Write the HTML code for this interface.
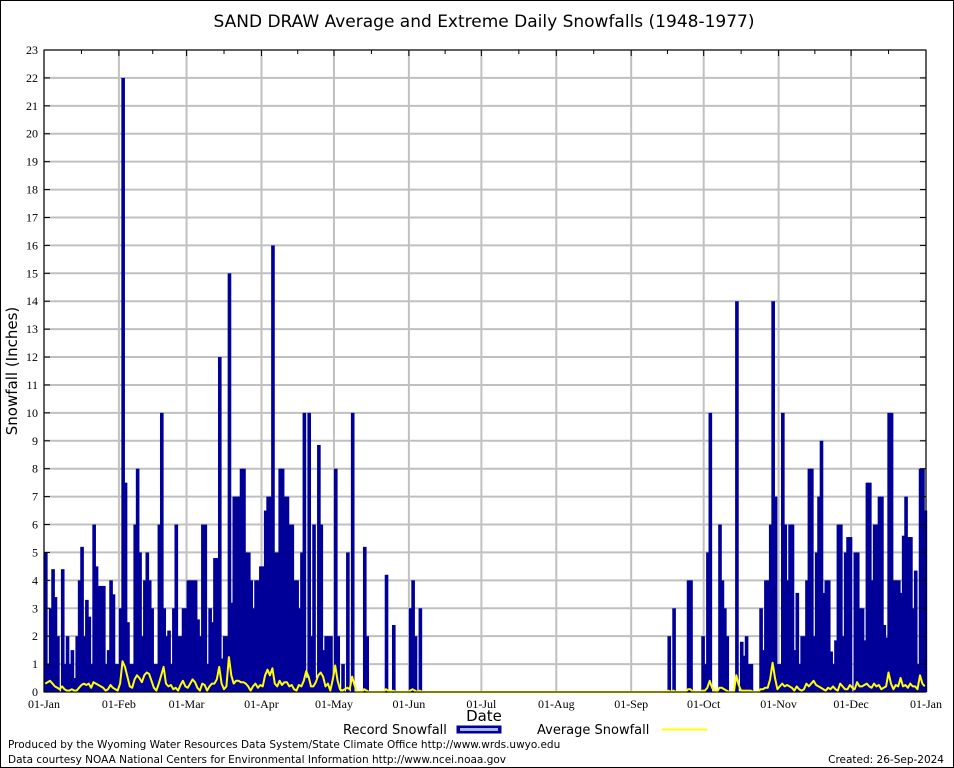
<!DOCTYPE html>
<html><head><meta charset="utf-8"><style>
body{margin:0;background:#fff;}
svg{display:block;}
.tk{font-family:"Liberation Serif",serif;font-size:12px;fill:#000;}
.sn{font-family:"DejaVu Sans","Liberation Sans",sans-serif;fill:#000;}
</style></head><body>
<svg id="chart" width="954" height="768" viewBox="0 0 954 768" xmlns="http://www.w3.org/2000/svg">
<rect x="0.5" y="0.5" width="953" height="767" fill="#fff" stroke="#000"/>
<text x="484" y="27" text-anchor="middle" class="sn" font-size="17">SAND DRAW Average and Extreme Daily Snowfalls (1948-1977)</text>
<g id="grid"></g>
<g id="bars"></g>
<g id="avg"></g>
<g id="axes"></g>
<text x="17" y="371" transform="rotate(-90 17 371)" text-anchor="middle" class="sn" font-size="15">Snowfall (Inches)</text>
<text x="484" y="721" text-anchor="middle" class="sn" font-size="15">Date</text>
<g>
<text x="343" y="734" class="sn" font-size="13">Record Snowfall</text>
<rect x="457" y="726" width="44" height="7" fill="#000099" stroke="#000099"/>
<rect x="460" y="728" width="38" height="3" fill="#aab4ff"/>
<text x="537" y="734" class="sn" font-size="13">Average Snowfall</text>
<line x1="662" y1="729.5" x2="707" y2="729.5" stroke="#ffff00" stroke-width="2"/>
</g>
<text x="8" y="748" class="sn" font-size="10.5">Produced by the Wyoming Water Resources Data System/State Climate Office http://www.wrds.uwyo.edu</text>
<text x="8" y="763" class="sn" font-size="10.5">Data courtesy NOAA National Centers for Environmental Information http://www.ncei.noaa.gov</text>
<text x="944" y="763" text-anchor="end" class="sn" font-size="10.5">Created:  26-Sep-2024</text>
</svg>
<script>
var monthLabels=["01-Jan","01-Feb","01-Mar","01-Apr","01-May","01-Jun","01-Jul","01-Aug","01-Sep","01-Oct","01-Nov","01-Dec","01-Jan"];
var monthDays=[0,31,59,90,120,151,181,212,243,273,304,334,365];
var yTicks=[0,1,2,3,4,5,6,7,8,9,10,11,12,13,14,15,16,17,18,19,20,21,22,23];
var record=[
5,1,3,4.4,3.4,2,0,4.4,1,2,
1,1.5,0.5,2,4,5.2,2,3.3,2.7,1,
6,4.5,3.8,3.8,3.8,1,1.5,4,3.5,1,
1,3,22,7.5,2.5,1,1,6,8,5,
2,4,5,4,3,1,1,6,10,3,
2,2.2,1,3,6,2,2,3,3,4,
4,4,4,2.6,2,6,6,1,3,2.5,
4.8,4.8,12,1.2,2,2,15,3.2,7,7,
7,8,8,5,5,4,3,4,4,4.5,
4.5,6.5,7,7,16,5,5,8,8,7,
7,6,6,4,4,3,5,10,0.5,10,
2,6,0.5,8.85,6,1.5,2,2,2,0.5,
8,2,0,1,0,5,0,10,0,0,
0,0,5.2,2,0,0,0,0,0,0,
0,4.2,0,0,2.4,0,0,0,0,0,
0,3,4,2,0,3,0,0,0,0,
0,0,0,0,0,0,0,0,0,0,
0,0,0,0,0,0,0,0,0,0,
0,0,0,0,0,0,0,0,0,0,
0,0,0,0,0,0,0,0,0,0,
0,0,0,0,0,0,0,0,0,0,
0,0,0,0,0,0,0,0,0,0,
0,0,0,0,0,0,0,0,0,0,
0,0,0,0,0,0,0,0,0,0,
0,0,0,0,0,0,0,0,0,0,
0,0,0,0,0,0,0,0,2,0,
3,0,0,0,0,0,4,4,0,0,
0,0,2,1,5,10,0,0,0,6,
4,3,2,0,0,0,14,0,1.8,1.3,
2,1,1,0,0,0,3,1.5,4,4,
6,14,7,1,1,10,6,4,6,6,
1.5,3.55,1,2,2,4,8,8,2,5,
7,9,3.55,4,4,1.45,1,1.85,6,6,
2,5,5.55,5.55,0,5,5,3,3,1.85,
7.5,7.5,4,6,6,7,7,2.4,1.95,10,
10,4,4,4,3.55,5.6,7,5.55,5.55,3,
4.35,1,8,8,6.5];
var average=[
.3,.35,.4,.3,.2,.15,.1,.2,.1,.05,
.05,.1,.05,.05,.15,.25,.3,.25,.3,.15,
.35,.3,.25,.2,.15,.05,.1,.25,.15,.1,
.05,.3,1.1,.9,.55,.2,.15,.45,.6,.5,
.35,.6,.7,.65,.4,.15,.05,.3,.6,.9,
.3,.2,.25,.1,.15,.05,.25,.4,.2,.15,
.3,.45,.35,.15,.05,.3,.25,.05,.2,.3,
.3,.45,.9,.3,.1,.2,1.25,.6,.3,.4,
.4,.35,.35,.3,.2,.05,.2,.3,.15,.25,
.2,.6,.8,.6,.85,.3,.2,.4,.25,.35,
.35,.2,.25,.1,.05,.25,.2,.4,.75,.55,
.2,.2,.35,.6,.7,.55,.2,.3,.05,.45,
.95,.4,.1,.05,.1,.15,.1,.55,.25,0,
0,0,.1,.05,0,0,0,0,0,0,
0,.1,.05,0,.05,0,0,0,0,0,
0,.05,.1,.05,0,.05,0,0,0,0,
0,0,0,0,0,0,0,0,0,0,
0,0,0,0,0,0,0,0,0,0,
0,0,0,0,0,0,0,0,0,0,
0,0,0,0,0,0,0,0,0,0,
0,0,0,0,0,0,0,0,0,0,
0,0,0,0,0,0,0,0,0,0,
0,0,0,0,0,0,0,0,0,0,
0,0,0,0,0,0,0,0,0,0,
0,0,0,0,0,0,0,0,0,0,
0,0,0,0,0,0,0,0,.05,0,
.05,0,0,0,0,0,.1,.1,0,0,
0,0,.05,.05,.15,.4,.15,.05,0,.15,
.15,.1,.05,0,0,0,.6,.25,.05,.05,
.05,.05,.05,0,0,0,.1,.1,.15,.15,
.45,1.05,.5,.1,.2,.3,.2,.25,.2,.15,
.05,.2,.1,.05,.1,.3,.2,.3,.4,.25,
.2,.15,.1,.05,.15,.1,.2,.1,.05,.3,
.2,.1,.1,.25,.15,.1,.35,.2,.2,.25,
.3,.2,.15,.3,.2,.25,.1,.15,.2,.7,
.3,.1,.25,.2,.5,.2,.25,.15,.3,.2,
.2,.1,.6,.3,.2];

var NS="http://www.w3.org/2000/svg";
var L=44,R=926,T=50,B=692,YMAX=23,NDAYS=365;
function xs(d){return L+(R-L)*d/NDAYS;}
function ys(v){return B-(B-T)*v/YMAX;}
function mk(tag,attrs,parent){var e=document.createElementNS(NS,tag);for(var k in attrs)e.setAttribute(k,attrs[k]);parent.appendChild(e);return e;}
var grid=document.getElementById('grid'),bars=document.getElementById('bars'),avgG=document.getElementById('avg'),axes=document.getElementById('axes');
for(var i=0;i<yTicks.length;i++){
  var y=ys(yTicks[i]);
  var g=mk('line',{x1:L,x2:R,y1:y,y2:y,stroke:'#c0c0c0','stroke-width':2},grid);
  
  
  var t=mk('text',{x:L-6,y:y+4,'text-anchor':'end','class':'tk'},axes);t.textContent=yTicks[i];
  
  
  var tk=mk('line',{x1:L,x2:L+6,y1:y,y2:y,stroke:'#000'},axes);
  
  
  var tk2=mk('line',{x1:R-6,x2:R,y1:y,y2:y,stroke:'#000'},axes);
  
  
}
for(var m=0;m<monthDays.length;m++){
  var x=xs(monthDays[m]);
  var gl=mk('line',{x1:x,x2:x,y1:T,y2:B,stroke:'#c0c0c0','stroke-width':2},grid);
  
  
  var lt=mk('text',{x:x,y:708,'text-anchor':'middle','class':'tk'},axes);lt.textContent=monthLabels[m];
  
  
  var xt=mk('line',{x1:x,x2:x,y1:T,y2:T+6,stroke:'#000'},axes);
  
  
  if(m<12){var mx=xs((monthDays[m]+monthDays[m+1])/2);
    var mt=mk('line',{x1:mx,x2:mx,y1:T,y2:T+4,stroke:'#000'},axes);
    
    }
}
var bw=(R-L)/NDAYS;
for(var d=0;d<record.length;d++){
  if(record[d]<=0)continue;
  var yy=ys(record[d]);
  var b=mk('rect',{x:xs(d),y:yy,width:bw*1.5,height:B-yy,fill:'#000099'},bars);
  
  
}
var pts=[];
for(var d2=0;d2<average.length;d2++){pts.push(xs(d2+0.5).toFixed(1)+','+ys(average[d2]).toFixed(1));}
var pl=mk('polyline',{points:pts.join(' '),fill:'none',stroke:'#ffff00','stroke-width':2,'stroke-linejoin':'round'},avgG);


var bx=mk('rect',{x:L,y:T,width:R-L,height:B-T,fill:'none',stroke:'#000'},axes);


</script>
</body></html>
